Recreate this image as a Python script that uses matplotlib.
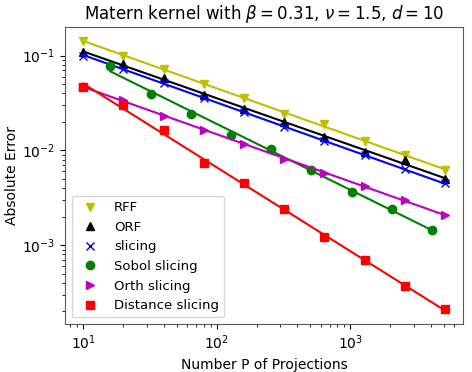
import numpy as np
import matplotlib
matplotlib.use('Agg')
from matplotlib import pyplot as plt

# number of projections
P = [10, 20, 40, 80, 160, 320, 640, 1280, 2560, 5120]
P_sobol = [16, 32, 64, 128, 256, 512, 1024, 2048, 4096]

err_rff = [0.144, 0.098, 0.0724, 0.0507, 0.0359, 0.0245, 0.0191, 0.0125, 0.0089, 0.0062]
err_orf = [0.108, 0.0818, 0.058, 0.0389, 0.0275, 0.0198, 0.0139, 0.0096, 0.0080, 0.00495]
err_slicing = [0.100, 0.0724, 0.0516, 0.0359, 0.0253, 0.0177, 0.0125, 0.0089, 0.0063, 0.0045]
err_sobol = [0.0785, 0.0395, 0.0243, 0.0145, 0.0104, 0.0062, 0.00367, 0.00243, 0.00146]
err_orth = [0.047, 0.0338, 0.0230, 0.0166, 0.0116, 0.0082, 0.0058, 0.0042, 0.00298, 0.00207]
err_dist = [0.0468, 0.0298, 0.0163, 0.0073, 0.00457, 0.00239, 0.00121, 0.000695, 0.000373, 0.000212]

series = [
    (P, err_rff, 'y', 'v', 'RFF'),
    (P, err_orf, 'k', '^', 'ORF'),
    (P, err_slicing, 'b', 'x', 'slicing'),
    (P_sobol, err_sobol, 'g', 'o', 'Sobol slicing'),
    (P, err_orth, 'm', '>', 'Orth slicing'),
    (P, err_dist, 'r', 's', 'Distance slicing'),
]

fig = plt.figure(figsize=(4.72, 3.72), dpi=100)
ax = fig.add_subplot(111)
fig.subplots_adjust(left=0.138, right=0.981, top=0.927, bottom=0.129)

for x, y, c, m, name in series:
    x = np.array(x, dtype=float)
    y = np.array(y)
    ax.plot(x, y, m, color=c, label=name, markersize=6)
    # log-log regression line
    a, b = np.polyfit(np.log(x), np.log(y), 1)
    ax.plot(x, np.exp(b) * x ** a, '-', color=c, linewidth=1.5)

ax.set_xscale('log')
ax.set_yscale('log')
ax.set_xlabel('Number P of Projections')
ax.set_ylabel('Absolute Error', labelpad=2)
ax.set_title(r'Matern kernel with $\beta = 0.31$, $\nu = 1.5$, $d = 10$', fontsize=12)
ax.legend(loc='lower left', fontsize=9.5)
for s in ax.spines.values():
    s.set_color('0.35')

plt.savefig('out.png')
